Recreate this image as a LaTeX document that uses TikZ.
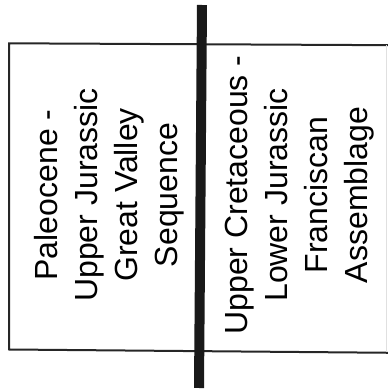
\documentclass[tikz,border=0pt]{standalone}
\usepackage{fontspec}
\setmainfont{Liberation Sans}
\begin{document}
\begin{tikzpicture}[x=1pt,y=1pt,
  boxline/.style={line width=2pt,black!85},
  fault/.style={line width=10pt,black!90},
  unitlabel/.style={rotate=90,anchor=base,align=center,inner sep=0pt,
    font=\fontsize{32}{40.3}\selectfont}]
\useasboundingbox (0,0) rectangle (388,392);
\begin{scope}
\clip (0,0) rectangle (388,392);
% box corners (image y measured from top)
\coordinate (tl) at (9,392-43.3);
\coordinate (tr) at (392,392-45.2);
\coordinate (bl) at (9,392-349.5);
\coordinate (br) at (392,392-352.8);
\draw[boxline] (tr) -- (tl) -- (bl) -- (br);
\draw[line width=0.8pt,black!12] (386.5,392-45) -- (386.5,392-352);
% fault line
\coordinate (ftop) at (202,392-5);
\coordinate (fbot) at (199,392-388);
\draw[fault] (ftop) -- (fbot);
\end{scope}
\node[unitlabel] (gvs) at (178,392-195) {Paleocene -\\Upper Jurassic\\Great Valley\\Sequence};
\node[unitlabel] (fra) at (368,392-195) {Upper Cretaceous -\\Lower Jurassic\\Franciscan\\Assemblage};
\end{tikzpicture}
\end{document}
